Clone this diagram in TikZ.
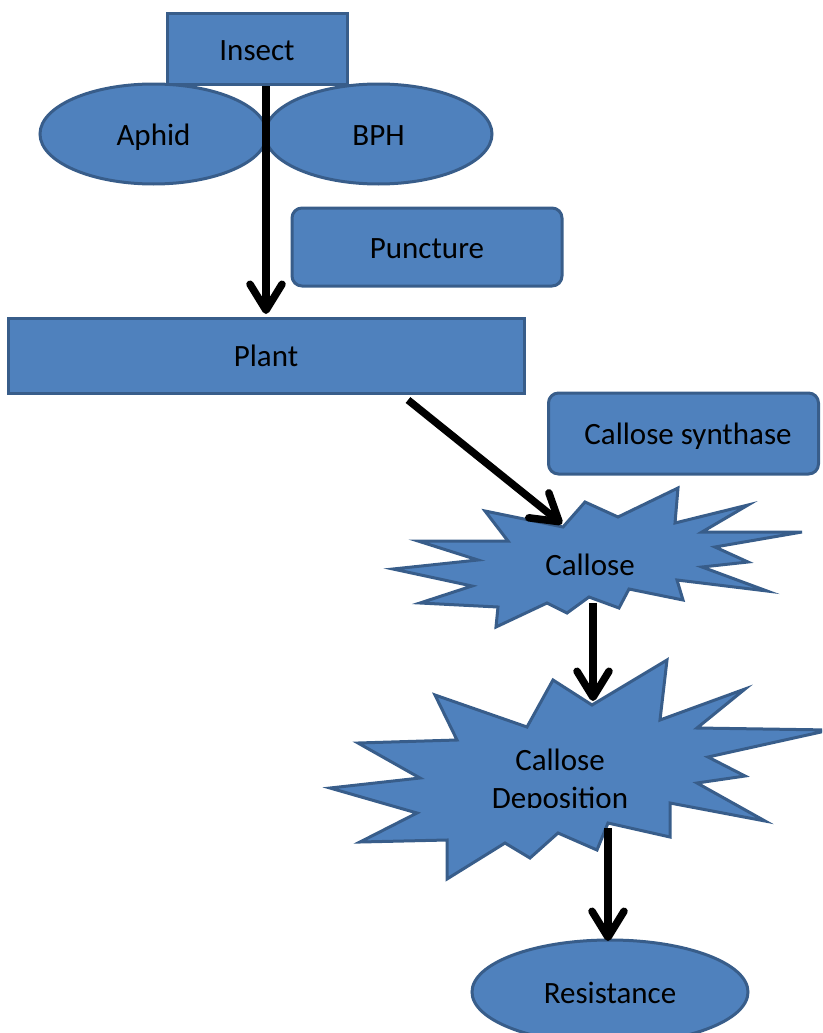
\documentclass[tikz,border=0pt]{standalone}
\usepackage{fontspec}
\setmainfont{Carlito}
\usetikzlibrary{arrows.meta,shapes.geometric}
\definecolor{boxfill}{HTML}{4F81BD}
\definecolor{boxline}{HTML}{385D8A}
\begin{document}
\begin{tikzpicture}[x=1pt,y=-1pt,
  shp/.style={fill=boxfill,draw=boxline,line width=3pt,font=\fontsize{31}{38}\selectfont,inner sep=0pt,text height=22pt,text depth=0pt},
  rbox/.style={shp,rectangle},
  rrbox/.style={shp,rectangle,rounded corners=10pt},
  ell/.style={shp,ellipse},
  burst/.style={fill=boxfill,draw=boxline,line width=3pt,line join=miter},
  lbl/.style={font=\fontsize{31}{38}\selectfont,inner sep=0pt},
  conn/.style={line width=7.5pt,black,line cap=butt,-{Straight Barb[length=26pt,width=32pt,round]}}
]
\useasboundingbox (0,0) rectangle (822,1033);
\clip (0,0) rectangle (822,1033);

% top boxes
\node[rbox,minimum width=180pt,minimum height=70pt] (insect) at (257,49) {Insect};
\node[ell,minimum width=227pt,minimum height=100pt] (aphid) at (153.5,134) {Aphid};
\node[ell,minimum width=227pt,minimum height=100pt] (bph) at (378.5,134) {BPH};
\node[rrbox,minimum width=270pt,minimum height=78pt] (puncture) at (427,247) {Puncture};
\node[rbox,minimum width=516pt,minimum height=75pt] (plant) at (266,355.5) {Plant};
\node[rrbox,minimum width=270pt,minimum height=81pt] (synth) at (683.5,433.5) {};
\node[lbl] (synthlbl) at (688,436) {Callose synthase};

% Callose burst
\draw[burst] (485,511) -- (508,541) -- (418,541) -- (478,560) -- (393,569) -- (472,586)
  -- (420,603) -- (498,607) -- (496,627) -- (547,603) -- (567,613) -- (589,597)
  -- (619,608) -- (629,589) -- (683,600) -- (677,580) -- (767,591) -- (702,567)
  -- (748,562) -- (715,547) -- (802,532) -- (702,532) -- (748,505) -- (675,523)
  -- (678,488) -- (618,517) -- (585,502) -- (563,527) -- cycle;
\node[lbl] (callose) at (590,565) {Callose};

% Callose deposition burst
\draw[burst] (435,695) -- (527,727) -- (553,680) -- (592,705) -- (667,660) -- (660,720)
  -- (745,689) -- (697,728) -- (830,730) -- (708,757) -- (745,776) -- (697,783)
  -- (765,821) -- (670,803) -- (670,837) -- (608,823) -- (597,850) -- (558,833)
  -- (530,858) -- (505,843) -- (447,879) -- (447,840) -- (360,842) -- (417,813)
  -- (330,788) -- (420,778) -- (358,743) -- (457,740) -- cycle;
\begin{scope}
  \clip (330,700) rectangle (830,807);
  \node[lbl,align=center] (depo) at (560,781) {Callose\\Deposition};
\end{scope}

% Resistance
\node[ell,minimum width=276pt,minimum height=104pt] (resist) at (610,992) {Resistance};

% connectors
\coordinate (a1s) at (266,86);
\coordinate (a1e) at (266,314);
\coordinate (a2s) at (408,400);
\coordinate (a2e) at (562,524);
\coordinate (a3s) at (593,603);
\coordinate (a3e) at (593,701);
\coordinate (a4s) at (608,828);
\coordinate (a4e) at (608,941);
\draw[conn] (a1s) -- (a1e);
\draw[conn] (a2s) -- (a2e);
\draw[conn] (a3s) -- (a3e);
\draw[conn] (a4s) -- (a4e);
\end{tikzpicture}
\end{document}
